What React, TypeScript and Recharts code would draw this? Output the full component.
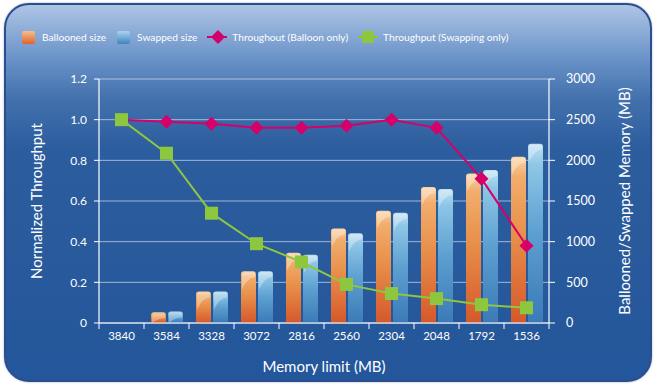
import { ComposedChart, Bar, Line, XAxis, YAxis, CartesianGrid } from 'recharts';

const memoryLimits = ['3840', '3584', '3328', '3072', '2816', '2560', '2304', '2048', '1792', '1536'];
const balloonedSize = [0, 132, 388, 635, 865, 1161, 1380, 1672, 1837, 2043];
const swappedSize = [0, 140, 388, 635, 840, 1104, 1355, 1648, 1882, 2203];
const balloonThroughput = [1.0, 0.99, 0.98, 0.96, 0.96, 0.97, 1.0, 0.96, 0.71, 0.38];
const swapThroughput = [1.0, 0.835, 0.54, 0.39, 0.3, 0.19, 0.145, 0.12, 0.09, 0.075];
const leftTicks = [0, 0.2, 0.4, 0.6, 0.8, 1.0, 1.2];
const rightTicks = [0, 500, 1000, 1500, 2000, 2500, 3000];

const data = memoryLimits.map((m, i) => ({
  limit: m,
  ballooned: balloonedSize[i],
  swapped: swappedSize[i],
  balloonTp: balloonThroughput[i],
  swapTp: swapThroughput[i],
}));

const W = 655;
const H = 386;
const MARGIN = { top: 79, right: 46, bottom: 0, left: 39 };
const PLOT_W = W - MARGIN.left - MARGIN.right - 60 - 60;
const HALF_BAND = PLOT_W / memoryLimits.length / 2;

const FONT = 'Lato, "Open Sans", sans-serif';
const RED = '#d6006b';
const GREEN = '#8dc63f';

const XTick = (props: any) => {
  const { x, y, payload, index } = props;
  return (
    <g>
      <line x1={x - HALF_BAND} x2={x - HALF_BAND} y1={y - 8} y2={y - 2} stroke="#fff" strokeWidth={1} />
      {index === memoryLimits.length - 1 && (
        <line x1={x + HALF_BAND} x2={x + HALF_BAND} y1={y - 8} y2={y - 2} stroke="#fff" strokeWidth={1} />
      )}
      <text x={x} y={y} dy="0.75em" textAnchor="middle" fill="#fff" fontSize={11.5} fontFamily={FONT}>
        {payload.value}
      </text>
    </g>
  );
};

const GlossBar = (props: any) => {
  const { x, y, width, height, fill } = props;
  if (!height || height <= 0) return null;
  const r = Math.min(3, height / 2);
  const body = `M${x},${y + height} L${x},${y + r} Q${x},${y} ${x + r},${y} L${x + width - r},${y} Q${x + width},${y} ${x + width},${y + r} L${x + width},${y + height} Z`;
  const g1 = Math.min(6, height);
  const g2 = Math.min(18, height);
  const gloss = `M${x + 1},${y + r} Q${x + 1},${y + 1} ${x + r + 1},${y + 1} L${x + width - 1},${y + 1} L${x + width - 1},${y + g1} Q${x + width * 0.45},${y + g1} ${x + 1},${y + g2} Z`;
  return (
    <g>
      <path d={body} fill={fill} />
      <path d={gloss} fill="#fff" fillOpacity={0.32} />
    </g>
  );
};

const Diamond = (props: any) => {
  const { cx, cy } = props;
  if (cx == null || cy == null) return null;
  const s = 7;
  return <polygon points={`${cx},${cy - s} ${cx + s},${cy} ${cx},${cy + s} ${cx - s},${cy}`} fill={RED} />;
};

const Square = (props: any) => {
  const { cx, cy } = props;
  if (cx == null || cy == null) return null;
  const s = 6.5;
  return <rect x={cx - s} y={cy - s} width={s * 2} height={s * 2} fill={GREEN} />;
};

const legendItems = [
  { label: 'Ballooned size', kind: 'box', color: 'orange' },
  { label: 'Swapped size', kind: 'box', color: 'blue' },
  { label: 'Throughout (Balloon only)', kind: 'diamond', color: RED },
  { label: 'Throughput (Swapping only)', kind: 'square', color: GREEN },
];

const LegendIcon = ({ kind, color }: { kind: string; color: string }) => {
  if (kind === 'box') {
    const stops = color === 'orange' ? ['#f6c08c', '#e0632c'] : ['#a9d4ee', '#3f82c0'];
    return (
      <svg width={13} height={13} style={{ display: 'block' }}>
        <defs>
          <linearGradient id={`lg-${color}`} x1="0" y1="0" x2="0" y2="1">
            <stop offset="0%" stopColor={stops[0]} />
            <stop offset="100%" stopColor={stops[1]} />
          </linearGradient>
        </defs>
        <rect x={0} y={0} width={13} height={13} rx={2} fill={`url(#lg-${color})`} />
      </svg>
    );
  }
  return (
    <svg width={20} height={14} style={{ display: 'block' }}>
      <line x1={0} x2={20} y1={7} y2={7} stroke={color} strokeWidth={2} />
      {kind === 'diamond' ? (
        <polygon points="11,0 18,7 11,14 4,7" fill={color} />
      ) : (
        <rect x={4} y={1} width={12} height={12} fill={color} />
      )}
    </svg>
  );
};

export default function App() {
  return (
    <div style={{ position: 'fixed', left: 0, top: 0, width: W, height: H, background: '#fff', overflow: 'hidden' }}>
      <div
        style={{
          position: 'absolute',
          left: 4,
          top: 3,
          width: 644,
          height: 375,
          borderRadius: 25,
          border: '2px solid #2c4e8e',
          background:
            'linear-gradient(180deg, #adc5e5 0%, #8cacd7 7%, #6690c6 15%, #4371ad 25%, #2c5d9e 38%, #23569a 100%)',
          boxShadow: '0 0 2px rgba(40,70,130,0.5)',
        }}
      />
      <div
        style={{
          position: 'absolute',
          left: 22,
          top: 30,
          display: 'flex',
          alignItems: 'center',
          fontFamily: FONT,
          fontSize: 10.2,
          color: '#fff',
          whiteSpace: 'nowrap',
        }}
      >
        {legendItems.map((it, i) => (
          <div key={it.label} style={{ display: 'flex', alignItems: 'center', marginRight: i === 0 ? 11 : 10 }}>
            <LegendIcon kind={it.kind} color={it.color} />
            <span style={{ marginLeft: it.kind === 'box' ? 7 : 5 }}>{it.label}</span>
          </div>
        ))}
      </div>
      <div style={{ position: 'absolute', left: 0, top: 0 }}>
        <ComposedChart
          width={W}
          height={H}
          data={data}
          margin={MARGIN}
          barSize={15}
          barGap={2}
          style={{ fontFamily: FONT }}
        >
          <defs>
            <linearGradient id="balloonGrad" x1="0" y1="0" x2="0" y2="1">
              <stop offset="0%" stopColor="#f9d3a2" />
              <stop offset="12%" stopColor="#f2ad6d" />
              <stop offset="45%" stopColor="#e8914b" />
              <stop offset="100%" stopColor="#d5582b" />
            </linearGradient>
            <linearGradient id="swapGrad" x1="0" y1="0" x2="0" y2="1">
              <stop offset="0%" stopColor="#bfe1f2" />
              <stop offset="12%" stopColor="#8ec6e6" />
              <stop offset="50%" stopColor="#5c9fd0" />
              <stop offset="100%" stopColor="#3b7ab7" />
            </linearGradient>
          </defs>
          <CartesianGrid yAxisId="left" vertical={false} stroke="#c8d6ea" strokeOpacity={0.75} strokeWidth={1} />
          <XAxis
            dataKey="limit"
            height={63}
            tickLine={false}
            tickSize={6}
            tickMargin={2}
            axisLine={{ stroke: '#fff', strokeWidth: 1.2 }}
            tick={<XTick />}
            interval={0}
            label={{ value: 'Memory limit (MB)', position: 'insideBottom', offset: 14, fill: '#fff', fontSize: 15, fontFamily: FONT }}
          />
          <YAxis
            yAxisId="left"
            width={60}
            domain={[0, 1.2]}
            ticks={leftTicks}
            tickFormatter={(v: number) => (v === 0 ? '0' : v.toFixed(1))}
            tickSize={5}
            tickMargin={7}
            tickLine={{ stroke: '#fff' }}
            axisLine={{ stroke: '#fff', strokeWidth: 1.2 }}
            tick={{ fill: '#fff', fontSize: 12, fontFamily: FONT }}
            label={{ value: 'Normalized Throughput', angle: -90, position: 'insideLeft', offset: -2, fill: '#fff', fontSize: 15, fontFamily: FONT, style: { textAnchor: 'middle' } }}
          />
          <YAxis
            yAxisId="right"
            orientation="right"
            width={60}
            domain={[0, 3000]}
            ticks={rightTicks}
            tickSize={6}
            tickMargin={11}
            tickLine={{ stroke: '#fff' }}
            axisLine={{ stroke: '#fff', strokeWidth: 1.2 }}
            tick={{ fill: '#fff', fontSize: 12.5, fontFamily: FONT }}
            label={{ value: 'Ballooned/Swapped Memory (MB)', angle: -90, position: 'insideRight', offset: -16, fill: '#fff', fontSize: 15, fontFamily: FONT, style: { textAnchor: 'middle' } }}
          />
          <Bar yAxisId="right" dataKey="ballooned" fill="url(#balloonGrad)" shape={<GlossBar />} isAnimationActive={false} />
          <Bar yAxisId="right" dataKey="swapped" fill="url(#swapGrad)" shape={<GlossBar />} isAnimationActive={false} />
          <Line
            yAxisId="left"
            dataKey="balloonTp"
            stroke={RED}
            strokeWidth={2}
            dot={<Diamond />}
            activeDot={false}
            isAnimationActive={false}
          />
          <Line
            yAxisId="left"
            dataKey="swapTp"
            stroke={GREEN}
            strokeWidth={2}
            dot={<Square />}
            activeDot={false}
            isAnimationActive={false}
          />
        </ComposedChart>
      </div>
    </div>
  );
}
